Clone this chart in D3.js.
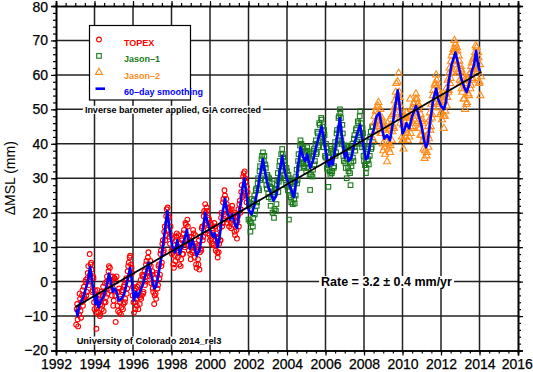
<!DOCTYPE html>
<html>
<head>
<meta charset="utf-8">
<script src="https://cdn.jsdelivr.net/npm/d3@7"></script>
<style>
body { margin: 0; background: #fff; }
svg { display: block; }
</style>
</head>
<body>
<div id="chart"></div>
<script>
// spacing of the plotted altimeter estimates, in years
const cycleStep = 0.025;

const topexStart = 1993.05;
const topexValues = [
    -12.5, -8, -6.5, -11, -13, -7.5, -9.5, -3.5, -5, -8.5, -10.5, -6, -4, -2.5, -7, -5.5, -1.5, -4.5, -5, 0,
    0.5, -4, -3, 1, 2.5, 4.5, -1, 0, 8, 2, 5, 5.5, 3.5, -3, -2.5, 1.5, 1, -6, -8, -2.5,
    -4, -9, -13.7, -7.5, -2.5, -5, -9, -4, -6, -10, -9.5, -6.5, -3, -8, -7, -4, -1.5, -8.5, -6, -3,
    -0.5, -6, -4.5, 0, 1.5, -3.5, -2, 3, 4.5, 0, 4, -2.5, 1.5, 0.5, -4, -1, 1.5, -7, -5.5, 1,
    1, -4, -11.7, 0, 1.5, -3, -7, -8.5, -3, -2, -9, -6, -5, -9.5, -7.5, -3, -2.5, -8, -6.5, -1.5,
    -1, -6, -5, 0.5, 1, -3.5, -2, 3, 4.5, 5.5, 1, 7, 7.5, 2, 5, 4, 2.5, -4, -1.5, -6,
    -9, -2.5, -6, -8, -2, -5, -7, -1.5, -4, -8, -1, -3, -6.5, -4.5, 0.5, -5, -4, 2, 1.5, -3.5,
    -3, 2, 3, -1, 0, 5, 6, 1.5, 2.5, 7, 8.5, 3, 5, 1.5, 6, 4.5, -0.5, 2, 3, -2,
    -3, -0.5, -6.5, -4, 1, -3.5, -5, 2.5, 2, -2, -1, 4.5, 5, 1, 2, 8, 9, 4.5, 5.5, 11,
    12, 8.5, 9, 14.5, 16, 12, 13.5, 19, 21, 17, 21.5, 15, 19, 18.5, 13, 11, 16, 13.5, 9, 8,
    12.5, 9.5, 5, 4, 10.5, 7.5, 6, 12, 13, 14, 9, 7, 13.5, 8.5, 5, 10, 11, 4.5, 6.5, 12.5,
    12, 8, 8, 14, 15, 11, 10, 17, 16.5, 12.5, 13, 18, 16, 10.5, 9, 13, 12, 8, 6.5, 11,
    13, 8.5, 9, 15, 14, 10, 7, 13.5, 11, 5, 4, 10, 10.5, 6.5, 5, 12, 3.5, 8.5, 13, 9.5,
    9, 15.5, 16, 12, 13, 19, 20.5, 16.5, 22.5, 20, 17, 21.5, 20.5, 15, 14, 18.5, 18, 13.5, 12, 17,
    16.5, 12.5, 11, 15.5, 15, 11, 10.5, 17, 16, 12, 9, 14, 13, 8.5, 7, 12.5, 8.5, 11, 15.5, 12,
    12, 18.5, 20, 16, 17, 23, 24, 19.5, 26.5, 25, 21, 19, 24, 22.5, 17, 18, 21.5, 21, 16, 20,
    20.5, 17, 15.5, 21, 22, 18, 16.5, 19.5, 20, 14.5, 13.5, 19, 18.5, 15, 12.5, 17.5, 19, 21, 16, 22.5,
    23.5, 20, 21, 26, 28, 24.5, 25, 30.5, 31.5, 27, 32, 30, 29, 25, 23, 27.5, 26
];

const jason1Start = 2002.0;
const jason1Values = [
    18, 22, 23, 17.5, 14.5, 21, 17, 24, 22.5, 16, 18.5, 23.5, 25, 19.5, 20.5, 26.5, 27, 22, 23, 28.5,
    30, 27, 26.5, 32, 33.5, 29.5, 30, 35.5, 36.5, 33, 37.5, 32, 35, 36.5, 29.5, 34, 33, 28, 27, 31,
    30.5, 25.5, 24.5, 30, 29, 27.5, 22, 24, 27, 28.5, 20, 26, 25.5, 18.5, 21, 26.5, 27, 20.5, 22.5, 28,
    29.5, 31.5, 26, 29, 33.5, 35, 30, 32, 37, 33.5, 38.5, 37, 36, 30, 31, 35, 34, 29.5, 28, 33,
    32, 27.5, 26.5, 31, 18, 25, 30, 28.5, 24.5, 23, 29, 27.5, 22.5, 25.5, 27, 24, 22.7, 29, 25, 30.5,
    32.5, 28.5, 29.5, 35, 37, 33, 34, 39.5, 41, 36, 40, 35.5, 34.5, 39, 38.5, 33.5, 33, 38, 37.5, 34,
    32, 38, 39, 34.5, 33, 36, 37, 31, 26.6, 35.5, 31, 37.5, 36.5, 30.5, 32.5, 38, 38.5, 34, 35, 40,
    41, 37, 37.5, 43.5, 43, 39, 39.5, 46, 45.5, 41, 41.5, 47.5, 47, 42, 45, 40.5, 39, 44, 42.5, 36.5,
    36, 40, 39, 33, 32.5, 37.5, 27.5, 34, 36, 32, 31, 38, 38.5, 31.5, 32, 37.5, 37, 33, 33.5, 39,
    40.5, 36.5, 37.5, 43, 44, 40, 41, 47.5, 48, 44.5, 50, 49, 47.5, 41, 40, 45.5, 43, 36.5, 35, 39.5,
    38.5, 34.5, 33, 39.5, 30, 35.5, 39, 33, 32, 37.5, 38, 31.5, 28, 34.5, 33.5, 39, 40, 36, 35, 41.5,
    42.5, 39, 38, 44, 44.5, 40, 40.5, 46.5, 46, 42.5, 42, 48, 49.5, 43, 46, 40, 39, 44.5, 43, 36.5,
    35, 39, 33.8, 37, 31.5, 33, 35, 39, 38.5, 35.5, 34, 40.5, 36.5, 42, 43.5, 38.5, 39, 45, 45, 40.5
];

const jason2Start = 2008.5;
const jason2Values = [
    41, 46, 48, 44, 43.5, 49.5, 50.5, 46.5, 45, 51, 52, 48, 47, 45.5, 50, 43, 43, 47.5, 46.5, 40,
    38, 45, 44.5, 39, 37, 44, 45, 40.5, 34.8, 46, 40, 38.5, 44, 45, 37.5, 39.5, 45.5, 48, 41, 43.5,
    48.5, 45, 44.5, 50.5, 52.5, 49, 55, 57.5, 51, 54, 58, 52, 60.5, 55, 53.5, 47.5, 46, 50.5, 48.5, 42,
    41, 45.5, 38.5, 41, 46.5, 48, 42, 44, 49, 47.5, 43, 41, 47.5, 48, 42, 47.5, 53, 43, 44.5, 50,
    50.5, 45, 46, 51.5, 52, 47, 48, 53, 54.5, 49, 53, 51.5, 46.5, 44.5, 50, 51, 44.5, 42.5, 48.5, 46.5,
    42.5, 47, 46, 41, 38.5, 42, 35.8, 38, 42, 41, 36.5, 37.5, 42.5, 45, 39, 41.5, 47, 49, 44, 45,
    51.5, 47.5, 48.5, 54, 55.5, 50.5, 52, 57, 57.5, 53, 60, 58.5, 57, 51.5, 50.5, 55.5, 55, 52, 48.5, 54.5,
    53.5, 49, 47, 52.5, 53, 48, 44.5, 52.5, 48, 49.5, 54.5, 56, 51, 53.5, 58.5, 55, 55.5, 60.5, 62, 57.5,
    59, 64, 65.5, 60.5, 61.5, 66.5, 67.5, 63, 70, 67.5, 69, 64, 63, 68, 67, 61, 60.5, 65.5, 64, 58.5,
    57.5, 62.5, 61.5, 56, 55, 60.5, 59.5, 53, 53, 58.5, 50, 57, 57.5, 51.5, 52, 59, 58.5, 54.5, 54, 60,
    60.5, 56, 57, 62.5, 63.5, 58.5, 59, 64.5, 65, 61.5, 62, 66.5, 68.5, 65, 68, 61.5, 61, 66.5, 65, 57.5,
    58, 63, 54, 59.5
];

// 60-day smoothed curve, [year, mm]
const smoothing = [
    [1993.05, -8], [1993.12, -10], [1993.2, -7], [1993.3, -6], [1993.45, -4], [1993.55, -2],
    [1993.65, 0], [1993.77, 4.3], [1993.85, 1], [1993.95, -3], [1994.05, -6.5], [1994.12, -4],
    [1994.2, -7.5], [1994.3, -6], [1994.45, -4.5], [1994.6, -2], [1994.75, 2.3], [1994.85, 0],
    [1994.95, -3], [1995.05, -2], [1995.15, -3], [1995.25, -5.5], [1995.4, -5], [1995.55, -3.5],
    [1995.7, 0], [1995.85, 4], [1995.95, 0], [1996.05, -5.5], [1996.15, -3], [1996.25, -4.5],
    [1996.35, -3], [1996.5, -1], [1996.65, 2], [1996.8, 5.5], [1996.95, 2], [1997.1, -2],
    [1997.2, -1.5], [1997.35, 3], [1997.5, 8], [1997.65, 14.5], [1997.78, 20.5], [1997.9, 15],
    [1998.05, 10], [1998.18, 8.5], [1998.3, 12], [1998.42, 8], [1998.55, 10], [1998.7, 13],
    [1998.8, 15], [1998.95, 9.5], [1999.1, 12], [1999.2, 10], [1999.3, 7.5], [1999.45, 9],
    [1999.6, 14], [1999.75, 20], [1999.88, 17], [2000.0, 15], [2000.15, 13], [2000.25, 14],
    [2000.4, 10], [2000.5, 13], [2000.65, 20], [2000.78, 24], [2000.9, 20], [2001.05, 18],
    [2001.15, 19.5], [2001.3, 16.5], [2001.4, 15.5], [2001.55, 21], [2001.68, 27], [2001.78, 30],
    [2001.9, 25], [2002.0, 21], [2002.15, 19.5], [2002.3, 22], [2002.45, 26], [2002.6, 31],
    [2002.75, 35.5], [2002.85, 32], [2003.0, 28], [2003.1, 26.5], [2003.3, 23.5], [2003.45, 25],
    [2003.6, 31], [2003.75, 36.5], [2003.9, 31.5], [2004.05, 29], [2004.2, 27], [2004.35, 24.5],
    [2004.5, 30], [2004.7, 39], [2004.85, 36], [2004.95, 35], [2005.05, 37], [2005.2, 33],
    [2005.35, 35], [2005.55, 40], [2005.8, 45], [2005.95, 40], [2006.1, 35], [2006.2, 33.5],
    [2006.3, 36], [2006.38, 34], [2006.55, 40], [2006.75, 47.5], [2006.9, 40], [2007.0, 36],
    [2007.1, 37.5], [2007.2, 35], [2007.35, 36], [2007.5, 40], [2007.65, 43], [2007.8, 45.5],
    [2007.95, 40], [2008.1, 35.5], [2008.2, 36], [2008.35, 41], [2008.5, 44], [2008.65, 48],
    [2008.8, 49], [2008.95, 44], [2009.05, 41.5], [2009.2, 42.5], [2009.35, 41], [2009.5, 46],
    [2009.65, 52], [2009.75, 55.5], [2009.85, 51], [2010.0, 43], [2010.1, 44], [2010.2, 46],
    [2010.35, 44.5], [2010.5, 48], [2010.7, 51], [2010.85, 48], [2011.0, 45], [2011.12, 41],
    [2011.22, 39], [2011.3, 40], [2011.45, 47], [2011.6, 53], [2011.75, 56], [2011.85, 53],
    [2012.0, 51], [2012.15, 50], [2012.25, 52], [2012.4, 58], [2012.55, 63], [2012.75, 66.5],
    [2012.9, 63], [2013.05, 59], [2013.2, 56.5], [2013.33, 55], [2013.45, 57], [2013.6, 61],
    [2013.72, 63], [2013.82, 67], [2013.92, 63], [2014.02, 61]
];

// linear fit, 3.2 mm/yr
const trend = [[1993.0, -7.4], [2014.1, 60.9]];

const xTicks = d3.range(1992, 2017, 2);
const xMinor = d3.range(1992, 2016.01, 0.5);
const yTicks = d3.range(-20, 81, 10);
const yMinor = d3.range(-20, 80.01, 2);

const legendItems = [
    {name: "TOPEX", color: "#ff0000", shape: "circle"},
    {name: "Jason\u20131", color: "#1a7a1a", shape: "square"},
    {name: "Jason\u20132", color: "#ff8c1a", shape: "triangle"},
    {name: "60\u2013day smoothing", color: "#0000ff", shape: "line"}
];

const width = 533, height = 372;
const font = "'Liberation Sans', Arial, Helvetica, sans-serif";

const svg = d3.select("#chart").append("svg")
    .attr("width", width)
    .attr("height", height);

const x = d3.scaleLinear().domain([1992, 2016]).range([56, 518]);
const y = d3.scaleLinear().domain([-20, 80]).range([350.5, 6]);

const toPoints = (start, vals) => vals.map((v, i) => [start + i * cycleStep, v]);
const topex = toPoints(topexStart, topexValues);
const jason1 = toPoints(jason1Start, jason1Values);
const jason2 = toPoints(jason2Start, jason2Values);

// grid
const grid = svg.append("g")
    .attr("stroke", "#222")
    .attr("stroke-width", 1.5);

grid.selectAll("line.v")
    .data(xTicks.slice(1, -1))
    .enter().append("line")
    .attr("x1", d => x(d)).attr("x2", d => x(d))
    .attr("y1", y(-20)).attr("y2", y(80));

grid.selectAll("line.h")
    .data(yTicks.slice(1, -1))
    .enter().append("line")
    .attr("x1", x(1992)).attr("x2", x(2016))
    .attr("y1", d => y(d)).attr("y2", d => y(d));

// scatter
const triangle = d3.symbol().type(d3.symbolTriangle).size(22);

svg.append("g")
    .selectAll("circle")
    .data(topex)
    .enter().append("circle")
    .attr("cx", d => x(d[0]))
    .attr("cy", d => y(d[1]))
    .attr("r", 2.4)
    .attr("fill", "none")
    .attr("stroke", "#ff0000")
    .attr("stroke-width", 1.1);

svg.append("g")
    .selectAll("rect")
    .data(jason1)
    .enter().append("rect")
    .attr("x", d => x(d[0]) - 2.3)
    .attr("y", d => y(d[1]) - 2.3)
    .attr("width", 4.6)
    .attr("height", 4.6)
    .attr("fill", "none")
    .attr("stroke", "#1a7a1a")
    .attr("stroke-width", 1.1);

svg.append("g")
    .selectAll("path")
    .data(jason2)
    .enter().append("path")
    .attr("d", triangle)
    .attr("transform", d => `translate(${x(d[0])},${y(d[1])})`)
    .attr("fill", "none")
    .attr("stroke", "#ff8c1a")
    .attr("stroke-width", 1.1);

const line = d3.line()
    .x(d => x(d[0]))
    .y(d => y(d[1]));

svg.append("path")
    .datum(smoothing)
    .attr("d", line)
    .attr("fill", "none")
    .attr("stroke", "#0000ff")
    .attr("stroke-width", 2.6)
    .attr("stroke-linejoin", "round");

svg.append("path")
    .datum(trend)
    .attr("d", line)
    .attr("fill", "none")
    .attr("stroke", "#000")
    .attr("stroke-width", 1.8);

// axes
function styleAxis(g) {
    g.select(".domain").attr("stroke", "#000").attr("stroke-width", 1.6);
    g.selectAll(".tick line").attr("stroke", "#000").attr("stroke-width", 1.2);
    g.selectAll("text")
        .attr("font-family", font)
        .attr("font-size", "14px")
        .attr("fill", "#000")
        .attr("stroke", "#000")
        .attr("stroke-width", 0.25);
}

svg.append("g")
    .attr("transform", `translate(0,${y(-20)})`)
    .call(d3.axisBottom(x).tickValues(xMinor).tickSize(3).tickFormat(""))
    .call(styleAxis);
const bottomAxis = svg.append("g")
    .attr("transform", `translate(0,${y(-20)})`)
    .call(d3.axisBottom(x).tickValues(xTicks).tickFormat(d3.format("d")).tickSize(5).tickPadding(4))
    .call(styleAxis);
bottomAxis.selectAll(".tick text").filter(d => d === 2016).attr("dx", -1.2);

svg.append("g")
    .attr("transform", `translate(0,${y(80)})`)
    .call(d3.axisTop(x).tickValues(xMinor).tickSize(3).tickFormat(""))
    .call(styleAxis);
svg.append("g")
    .attr("transform", `translate(0,${y(80)})`)
    .call(d3.axisTop(x).tickValues(xTicks).tickSize(5).tickFormat(""))
    .call(styleAxis);

svg.append("g")
    .attr("transform", `translate(${x(1992)},0)`)
    .call(d3.axisLeft(y).tickValues(yMinor).tickSize(3).tickFormat(""))
    .call(styleAxis);
const leftAxis = svg.append("g")
    .attr("transform", `translate(${x(1992)},0)`)
    .call(d3.axisLeft(y).tickValues(yTicks).tickSize(5).tickPadding(3).tickFormat(d => d < 0 ? "\u2212" + Math.abs(d) : d))
    .call(styleAxis);
leftAxis.selectAll(".tick text").filter(d => d === 80).attr("dy", "0.42em");

svg.append("g")
    .attr("transform", `translate(${x(2016)},0)`)
    .call(d3.axisRight(y).tickValues(yMinor).tickSize(3).tickFormat(""))
    .call(styleAxis);
svg.append("g")
    .attr("transform", `translate(${x(2016)},0)`)
    .call(d3.axisRight(y).tickValues(yTicks).tickSize(5).tickFormat(""))
    .call(styleAxis);

svg.append("text")
    .attr("transform", `translate(15,${(y(-20) + y(80)) / 2}) rotate(-90)`)
    .attr("text-anchor", "middle")
    .attr("font-family", font)
    .attr("font-size", "14px")
    .text("\u0394MSL (mm)");

// text labels with a white box behind them
function boxedText(tx, ty, str, size, weight) {
    const g = svg.append("g");
    const t = g.append("text")
        .attr("x", tx).attr("y", ty)
        .attr("text-anchor", "middle")
        .attr("font-family", font)
        .attr("font-size", size)
        .attr("font-weight", weight)
        .text(str);
    const b = t.node().getBBox();
    g.insert("rect", "text")
        .attr("x", b.x - 2).attr("y", b.y + 1)
        .attr("width", b.width + 4).attr("height", b.height - 2)
        .attr("fill", "#fff");
    return t;
}

boxedText(173, 112.8, "Inverse barometer applied, GIA corrected", "9px", "bold");
boxedText(149, 343.5, "University of Colorado 2014_rel3", "9.3px", "bold");
boxedText(386.5, 286, "Rate = 3.2 \u00b1 0.4 mm/yr", "12.5px", "bold");

// legend
const legend = svg.append("g");
legend.append("rect")
    .attr("x", 89.5).attr("y", 25.5)
    .attr("width", 101).attr("height", 74.5)
    .attr("fill", "#fff")
    .attr("stroke", "#000")
    .attr("stroke-width", 1.2);

const legendRow = legend.selectAll("g.item")
    .data(legendItems)
    .enter().append("g")
    .attr("transform", (d, i) => `translate(99,${39.5 + i * 16.4})`);

legendRow.each(function (d) {
    const g = d3.select(this);
    if (d.shape === "circle") {
        g.append("circle").attr("r", 2.4).attr("fill", "none").attr("stroke", d.color).attr("stroke-width", 1.1);
    } else if (d.shape === "square") {
        g.append("rect").attr("x", -2.3).attr("y", -2.3).attr("width", 4.6).attr("height", 4.6)
            .attr("fill", "none").attr("stroke", d.color).attr("stroke-width", 1.1);
    } else if (d.shape === "triangle") {
        g.append("path").attr("d", triangle()).attr("fill", "none").attr("stroke", d.color).attr("stroke-width", 1.1);
    } else {
        g.append("line").attr("x1", -3.5).attr("x2", 6).attr("y1", 0).attr("y2", 0)
            .attr("stroke", d.color).attr("stroke-width", 2.6);
    }
    g.append("text")
        .attr("x", 25)
        .attr("y", 6.5)
        .attr("font-family", font)
        .attr("font-size", "9px")
        .attr("font-weight", "bold")
        .attr("fill", d.color)
        .text(d.name);
});
</script>
</body>
</html>
